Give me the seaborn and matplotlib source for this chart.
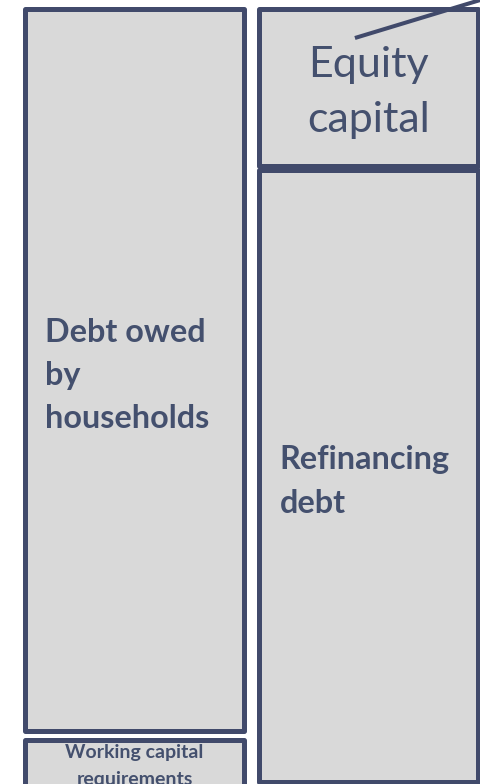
import matplotlib
matplotlib.use("Agg")
import matplotlib.pyplot as plt
import seaborn as sns
import pandas as pd

# two columns of the balance sheet
columns = ["Assets", "Liabilities"]

# boxes, listed top to bottom within each column
segment_labels = ["Debt owed\nby\nhouseholds", "Working capital\nrequirements",
                  "Equity\ncapital", "Refinancing\ndebt"]
segment_column = ["Assets", "Assets", "Liabilities", "Liabilities"]
segment_values = [722, 60, 157, 612]

# short callout line leaving the top right corner
callout_x = [0.942, 1.52]
callout_y = [29.5, -11.5]

fill = "#d9d9d9"
edge = "#414a6b"
text_col = "#44506e"
bar_width = 0.932
gaps = {"Assets": 9, "Liabilities": 4}

sns.set_style("white")
plt.rcParams["font.family"] = ["Lato", "DejaVu Sans"]

df = pd.DataFrame({"label": segment_labels, "column": segment_column, "value": segment_values})
bottoms = []
for col in columns:
    pos = 0
    for v in df.loc[df["column"] == col, "value"]:
        bottoms.append(pos)
        pos += v + gaps[col]
df["bottom"] = [0, 0, 0, 0]
df.loc[df["column"] == "Assets", "bottom"] = bottoms[:2]
df.loc[df["column"] == "Liabilities", "bottom"] = bottoms[2:]

fig = plt.figure(figsize=(4.81, 7.84), dpi=100)
ax = fig.add_axes([0, 0, 1, 1])

for _, row in df.iterrows():
    sns.barplot(x=[row["column"]], y=[row["value"]], bottom=row["bottom"], order=columns,
                ax=ax, color=fill, saturation=1, edgecolor=edge, linewidth=3.6,
                width=bar_width, errorbar=None)
for p in ax.patches:
    p.set_joinstyle("round")

ax.plot(callout_x, callout_y, color=edge, lw=2.9, solid_capstyle="butt", clip_on=False)

pad = 20 / 234
for _, row in df.iterrows():
    xi = columns.index(row["column"])
    yc = row["bottom"] + row["value"] / 2
    lab = row["label"]
    if lab.startswith("Equity"):
        # baseline of the last line
        ax.text(xi, row["bottom"] + 123.5, lab, ha="center", va="baseline", fontsize=31,
                color=text_col, linespacing=1.55)
    elif lab.startswith("Working"):
        ax.text(xi, row["bottom"] + 45, lab, ha="center", va="baseline", fontsize=14,
                fontweight="bold", color=text_col, linespacing=1.7)
    else:
        ax.text(xi - bar_width / 2 + pad, yc + 6, lab, ha="left", va="center", fontsize=23.3,
                fontweight="bold", color=text_col, linespacing=1.6)

ax.set_xlim(-134.5 / 234, 1 + 112.5 / 234)
ax.set_ylim(775.5, -8.5)
ax.axis("off")

fig.savefig("out.png", dpi=100)
